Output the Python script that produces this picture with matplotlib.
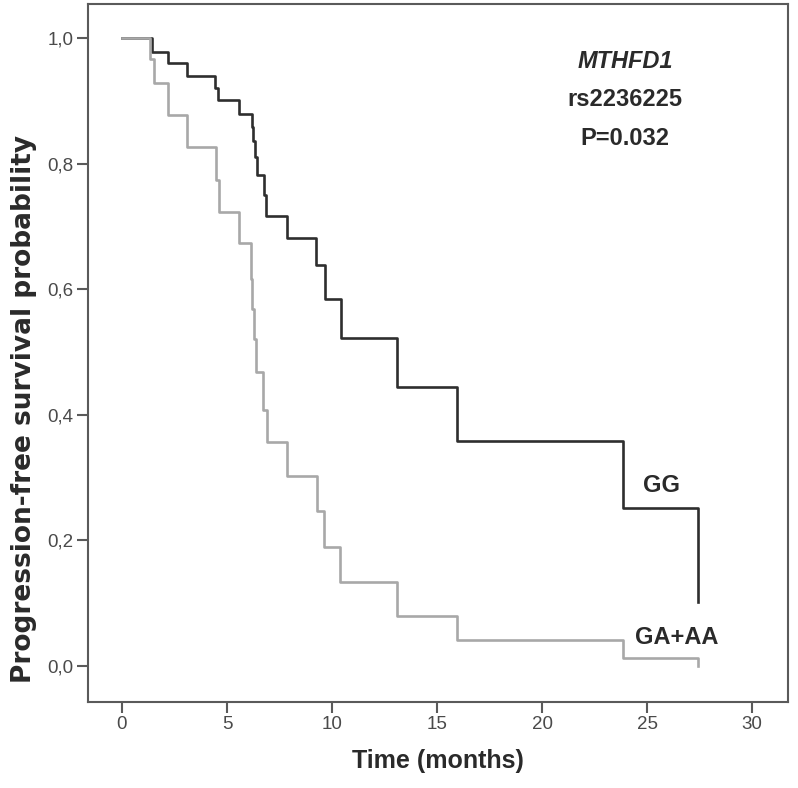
import matplotlib
matplotlib.use("Agg")
import matplotlib.pyplot as plt

# Kaplan-Meier steps (time in months, survival probability)
gg_time = [0, 1.41, 2.20, 3.08, 4.43, 4.59, 5.59, 6.17, 6.24, 6.33, 6.43, 6.76, 6.88,
           7.84, 9.25, 9.67, 10.41, 13.11, 15.94, 23.87, 27.44]
gg_surv = [1.0, 0.978, 0.960, 0.940, 0.921, 0.901, 0.880, 0.859, 0.837, 0.811, 0.782,
           0.750, 0.716, 0.682, 0.639, 0.585, 0.523, 0.445, 0.358, 0.252, 0.102]

gaaa_time = [0, 1.33, 1.54, 2.20, 3.11, 4.48, 4.63, 5.59, 6.14, 6.20, 6.30, 6.37, 6.73,
             6.89, 7.84, 9.27, 9.63, 10.38, 13.11, 15.94, 23.86, 27.43]
gaaa_surv = [1.0, 0.967, 0.928, 0.877, 0.827, 0.774, 0.723, 0.673, 0.617, 0.569, 0.521,
             0.469, 0.408, 0.356, 0.302, 0.247, 0.190, 0.134, 0.080, 0.041, 0.012, 0.0]

x_ticks = [0, 5, 10, 15, 20, 25, 30]
y_ticks = [0.0, 0.2, 0.4, 0.6, 0.8, 1.0]
y_ticklabels = ["0,0", "0,2", "0,4", "0,6", "0,8", "1,0"]

frame_col = "#5a5a5a"
tick_font = ["Liberation Sans", "DejaVu Sans"]

fig = plt.figure(figsize=(7.98, 7.88), dpi=100)
ax = fig.add_axes([87.5 / 798, 1 - 701.7 / 788, (788 - 87.5) / 798, (701.7 - 4.3) / 788])

ax.step(gg_time, gg_surv, where="post", color="#2e2e2e", lw=1.9, zorder=3)
ax.step(gaaa_time, gaaa_surv, where="post", color="#a8a8a8", lw=1.9, zorder=4)

ax.set_xlim(-1.64, 31.71)
ax.set_ylim(-0.057, 1.054)

ax.set_xticks(x_ticks)
ax.set_xticklabels([str(t) for t in x_ticks])
ax.set_yticks(y_ticks)
ax.set_yticklabels(y_ticklabels)

for side in ax.spines.values():
    side.set_color(frame_col)
    side.set_linewidth(1.5)
ax.tick_params(direction="out", length=8, width=1.5, color=frame_col,
               labelsize=13.5, labelcolor="#4a4a4a", pad=2)
for lab in ax.get_xticklabels() + ax.get_yticklabels():
    lab.set_family(tick_font)

# labels
ax.set_xlabel("Time (months)", fontsize=18, fontweight="bold", color="#2a2a2a",
              family=["Liberation Sans", "DejaVu Sans"], labelpad=12)
fig.text(24 / 798, 1 - 408.5 / 788, "Progression-free survival probability",
         rotation=90, ha="center", va="center", fontsize=19, fontweight="bold",
         color="#2a2a2a", family=["DejaVu Sans"])

# annotations
ann = dict(ha="center", va="center", fontsize=17, fontweight="bold", color="#2a2a2a",
           family=["Liberation Sans", "DejaVu Sans"])
ax.text(23.95, 0.963, "MTHFD1", style="italic", **ann)
ax.text(23.95, 0.903, "rs2236225", **ann)
ax.text(23.95, 0.840, "P=0.032", **ann)
ax.text(25.67, 0.288, "GG", **ann)
ax.text(26.43, 0.045, "GA+AA", **ann)

fig.savefig("out.png", dpi=100)
